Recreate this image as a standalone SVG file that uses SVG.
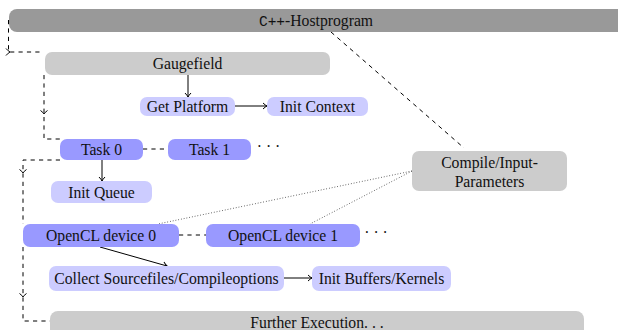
<svg xmlns="http://www.w3.org/2000/svg" width="618" height="330" viewBox="0 0 618 330">
<defs>
<style>
.t{font-family:"Liberation Serif","Times New Roman",serif;font-size:15.7px;fill:#111;text-anchor:middle}
.m{font-family:"Liberation Mono","Courier New",monospace;font-size:14.5px}
.dark{fill:#999999}
.gray{fill:#cccccc}
.blue{fill:#9999ff}
.light{fill:#ccccff}
.dash{fill:none;stroke:#000;stroke-width:1;stroke-dasharray:4.2 4.2}
.dot{fill:none;stroke:#333;stroke-width:0.9;stroke-dasharray:0.8 2}
.arr{fill:none;stroke:#000;stroke-width:1}
.chev{fill:none;stroke:#000;stroke-width:1}
</style>
<marker id="ah" viewBox="-5 -4 6 8" markerWidth="6" markerHeight="8" refX="0" refY="0" orient="auto" markerUnits="userSpaceOnUse">
<path d="M-4,-3 Q-1.5,-0.6 0,0 Q-1.5,0.6 -4,3" fill="none" stroke="#000" stroke-width="1"/>
</marker>
</defs>
<g id="connectors">
<path class="dash" d="M8.5,20 V52 H43"/>
<path class="chev" d="M6,48.5 Q8.5,51.3 10,52 Q8.5,52.7 6,55.5"/>
<path class="dash" d="M44,75 V139 H60"/>
<path class="chev" d="M40.5,110.5 Q43.3,112.5 44,114 Q44.7,112.5 47.5,110.5"/>
<path class="dash" d="M60,160 H23 V224"/>
<path class="chev" d="M19.5,169.5 Q22.3,171.5 23,173 Q23.7,171.5 26.5,169.5"/>
<path class="dash" d="M23,247 V321 H50"/>
<path class="chev" d="M19.5,293.5 Q22.3,295.5 23,297 Q23.7,295.5 26.5,293.5"/>
<path class="dash" d="M143,149 H168"/>
<path class="dash" d="M179,235 H206"/>
<path class="dash" d="M331,32 L464,148"/>
<path class="dot" d="M412,171 L158,224"/>
<path class="dot" d="M412,171 L310,224"/>
<path class="arr" d="M188,75 V97" marker-end="url(#ah)"/>
<path class="arr" d="M235,106 H267" marker-end="url(#ah)"/>
<path class="arr" d="M102,160 V181" marker-end="url(#ah)"/>
<path class="arr" d="M100,247 L167,266" marker-end="url(#ah)"/>
<path class="arr" d="M284,278 H312" marker-end="url(#ah)"/>
</g>
<g id="host"><rect class="dark" x="9" y="9" width="640" height="23" rx="8"/><text class="t" x="316" y="25.5"><tspan class="m">C++</tspan>-Hostprogram</text></g>
<g id="gaugefield"><rect class="gray" x="45" y="52" width="285" height="23" rx="7"/><text class="t" x="187.5" y="68.5">Gaugefield</text></g>
<g id="getplatform"><rect class="light" x="140" y="97" width="95" height="19" rx="7"/><text class="t" x="187.5" y="111.5">Get Platform</text></g>
<g id="initcontext"><rect class="light" x="267" y="97" width="101" height="19" rx="7"/><text class="t" x="317.5" y="111.5">Init Context</text></g>
<g id="task0"><rect class="blue" x="60" y="139" width="83" height="21" rx="7"/><text class="t" x="101.5" y="155">Task 0</text></g>
<g id="task1"><rect class="blue" x="168" y="139" width="83" height="21" rx="7"/><text class="t" x="209.5" y="155">Task 1</text></g>
<g id="dots1"><text class="t" x="268.5" y="152">· · ·</text></g>
<g id="initqueue"><rect class="light" x="51" y="181" width="101" height="22" rx="7"/><text class="t" x="101.5" y="197.5">Init Queue</text></g>
<g id="compile"><rect class="gray" x="412" y="151" width="155" height="40" rx="7"/><text class="t" x="489.5" y="168">Compile/Input-</text><text class="t" x="489.5" y="186.5">Parameters</text></g>
<g id="device0"><rect class="blue" x="23" y="224" width="156" height="23" rx="7"/><text class="t" x="101" y="241">OpenCL device 0</text></g>
<g id="device1"><rect class="blue" x="206" y="224" width="154" height="23" rx="7"/><text class="t" x="283" y="241">OpenCL device 1</text></g>
<g id="dots2"><text class="t" x="376" y="238">· · ·</text></g>
<g id="collect"><rect class="light" x="49" y="266" width="235" height="25" rx="7"/><text class="t" x="166.5" y="284">Collect Sourcefiles/Compileoptions</text></g>
<g id="initbuffers"><rect class="light" x="312" y="266" width="139" height="25" rx="7"/><text class="t" x="381.5" y="284">Init Buffers/Kernels</text></g>
<g id="further"><rect class="gray" x="50" y="311" width="534" height="30" rx="8"/><text class="t" x="317" y="327.5">Further Execution. . .</text></g>
</svg>
